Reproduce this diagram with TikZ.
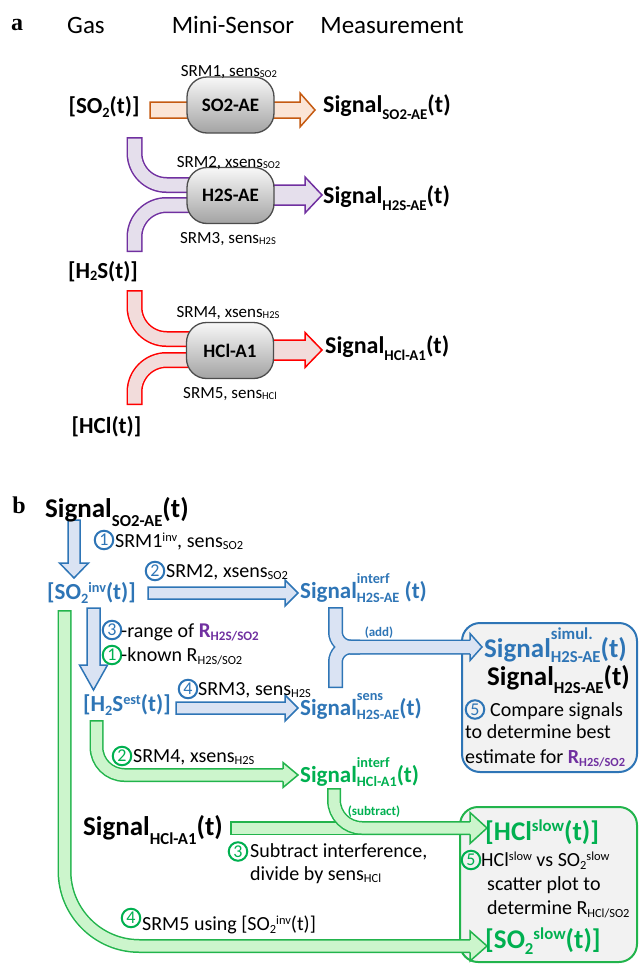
\documentclass[tikz,border=0pt]{standalone}
\usepackage{fontspec}
\setmainfont{Carlito}
\newfontfamily\serifb{Liberation Serif}
\usetikzlibrary{calc}
\definecolor{bT}{RGB}{46,117,182}
\definecolor{bB}{RGB}{46,117,182}
\definecolor{bF}{RGB}{218,227,243}
\definecolor{gT}{RGB}{0,176,80}
\definecolor{gB}{RGB}{34,180,76}
\definecolor{gF}{RGB}{204,245,204}
\definecolor{pT}{RGB}{112,48,160}
\definecolor{pF}{RGB}{229,223,236}
\definecolor{rB}{RGB}{255,0,0}
\definecolor{rF}{RGB}{242,220,219}
\definecolor{oB}{RGB}{197,90,17}
\definecolor{oF}{RGB}{251,229,214}
\definecolor{boxF}{RGB}{242,242,242}
\makeatletter
\newdimen\myscr
\newcommand\scrf{\myscr=\f@size pt\myscr=0.62\myscr\fontsize{\myscr}{\myscr}\selectfont}
\makeatother
\newcommand\sbx[2][0.25em]{\raisebox{-#1}{\scrf #2}}
\newcommand\spx[2][0.3em]{\raisebox{#1}{\scrf #2}}
\newcommand\spsb[2]{\makebox[0pt][l]{\raisebox{0.65em}{\scrf #1}}\raisebox{-0.2em}{\scrf #2}}
\newcommand\fsz[1]{\fontsize{#1}{#1}\selectfont}
% band: #1 border, #2 fill, #3 width, #4 shorten of fill at start, #5 path
\newcommand\bandpath[5]{%
  \draw[line width=#3pt, draw=#1] #5;
  \draw[line width=#3pt-3pt, draw=#2, shorten <=#4pt] #5;}
% open arrow head pointing right: #1 B, #2 F, #3 base x, #4 y, #5 shaft half, #6 head half, #7 tip x
\newcommand\headR[7]{%
  \filldraw[draw=#1, fill=#2, line width=1.5pt, line join=miter]
    (#3,#4-#5+0.75) -- (#3,#4-#6) -- (#7,#4) -- (#3,#4+#6) -- (#3,#4+#5-0.75);}
% straight arrow right: #1 B, #2 F, #3 start, #4 length to head base, #5 shaft half, #6 head half, #7 head length
\newcommand\harrow[7]{%
  \filldraw[draw=#1, fill=#2, line width=1.5pt, line join=miter, shift={(#3)}]
    (0,-#5) -- (#4,-#5) -- (#4,-#6) -- (#4+#7,0) -- (#4,#6) -- (#4,#5) -- (0,#5) -- cycle;}
% straight arrow down
\newcommand\varrow[7]{%
  \filldraw[draw=#1, fill=#2, line width=1.5pt, line join=miter, shift={(#3)}]
    (-#5,0) -- (-#5,#4) -- (-#6,#4) -- (0,#4+#7) -- (#6,#4) -- (#5,#4) -- (#5,0) -- cycle;}
\begin{document}
\begin{tikzpicture}[x=1pt,y=-1pt,
  tit/.style={font=\fsz{25}, anchor=base, inner sep=0pt},
  plab/.style={font=\serifb\bfseries\fsz{24}, anchor=base, inner sep=0pt},
  gasl/.style={font=\fsz{23}\bfseries, anchor=base, inner sep=0pt},
  sigl/.style={font=\fsz{24}\bfseries, anchor=base west, inner sep=0pt},
  srm/.style={font=\fsz{17}, anchor=base, inner sep=0pt},
  sensor/.style={draw=black!70, line width=1.3pt, rounded corners=20pt,
     top color=black!3, bottom color=black!36, minimum width=87pt, minimum height=56pt,
     font=\fsz{19}\bfseries, inner sep=0pt},
  bsig/.style={font=\fsz{27}\bfseries, anchor=base west, inner sep=0pt},
  blab/.style={font=\fsz{23}\bfseries, text=bT, anchor=base west, inner sep=0pt},
  glab/.style={font=\fsz{23}\bfseries, text=gT, anchor=base west, inner sep=0pt},
  srmb/.style={font=\fsz{20}, anchor=base west, inner sep=0pt},
  boxt/.style={font=\fsz{20}, anchor=base west, inner sep=0pt},
  small/.style={font=\fsz{13}\bfseries, anchor=base, inner sep=0pt},
  circ/.style={circle, draw, line width=2pt, inner sep=0pt, minimum size=18.5pt, font=\fsz{18}},
  rbox/.style={line width=2pt, fill=boxF, rounded corners=18pt}
]
\useasboundingbox (0,0) rectangle (639,964);

% ================= panel a =================
\node[plab] (la) at (17,30) {a};
\node[tit] (tg) at (86,33) {Gas};
\node[tit] (tm) at (233,33) {Mini-Sensor};
\node[tit] (tme) at (392,33) {Measurement};

% bands
\harrow{oB}{oF}{150,110}{150}{8}{17}{15}
\bandpath{pT}{pF}{16}{1.5}{(134.5,137) -- (134.5,153) arc[start angle=180,end angle=90,radius=32] -- (200,185)}
\bandpath{pT}{pF}{16}{1.5}{(134.5,252) -- (134.5,237) arc[start angle=180,end angle=270,radius=32] -- (200,205)}
\harrow{pT}{pF}{260,195}{45}{10}{18}{17}
\bandpath{rB}{rF}{16}{1.5}{(134.5,290) -- (134.5,307) arc[start angle=180,end angle=90,radius=32] -- (200,339)}
\bandpath{rB}{rF}{16}{1.5}{(134.5,405) -- (134.5,392) arc[start angle=180,end angle=270,radius=32] -- (200,360)}
\harrow{rB}{rF}{260,350}{45}{10}{17.5}{17}

\node[sensor] (s1) at (230.5,105) {SO2-AE};
\node[sensor] (s2) at (230.5,195.5) {H2S-AE};
\node[sensor] (s3) at (230,350.5) {HCl-A1};

\node[gasl] (g1) at (104,113) {[SO\sbx[0.2em]{2}(t)]};
\node[gasl] (g2) at (103,278) {[H\sbx[0.12em]{2}S(t)]};
\node[gasl] (g3) at (106.5,433) {[HCl(t)]};

\node[sigl] (m1) at (323,112) {Signal\sbx[0.3em]{SO2-AE}(t)};
\node[sigl] (m2) at (323,203) {Signal\sbx[0.3em]{H2S-AE}(t)};
\node[sigl] (m3) at (325,353) {Signal\sbx[0.3em]{HCl-A1}(t)};

\node[srm] (r1) at (229,76) {SRM1, sens\sbx[0.1em]{SO2}};
\node[srm] (r2) at (228.5,167) {SRM2, xsens\sbx[0.1em]{SO2}};
\node[srm] (r3) at (228,243) {SRM3, sens\sbx[0.1em]{H2S}};
\node[srm] (r4) at (228,317) {SRM4, xsens\sbx[0.1em]{H2S}};
\node[srm] (r5) at (230,398) {SRM5, sens\sbx[0.1em]{HCl}};

% ================= panel b =================
\node[plab] (lb) at (19,513) {b};

\draw[rbox, draw=bB] (462,623) rectangle (637,772);
\draw[rbox, draw=gB] (460,807) rectangle (637,962);

% blue arrows
\varrow{bB}{bF}{74,520}{43}{6}{14.5}{15}
\harrow{bB}{bF}{148,593}{137}{6}{13}{13}
\varrow{bB}{bF}{93.5,608}{57}{6.5}{14}{25}
\harrow{bB}{bF}{176,708}{109}{6}{13}{13}

% (add) junction
\draw[bB, line width=15pt] (335.5,607) -- (335.5,632) arc[start angle=180,end angle=90,radius=15] -- (470,647);
\draw[bB, line width=15pt] (335.5,688) -- (335.5,662) arc[start angle=180,end angle=270,radius=15] -- (360,647);
\headR{bB}{bF}{470}{647}{7.5}{13.5}{482}
\draw[bF, line width=12pt, shorten <=1.5pt] (335.5,607) -- (335.5,632) arc[start angle=180,end angle=90,radius=15] -- (470,647);
\draw[bF, line width=12pt, shorten <=1.5pt] (335.5,688) -- (335.5,662) arc[start angle=180,end angle=270,radius=15] -- (360,647);

% green bands
\bandpath{gB}{gF}{14}{1.5}{(64.5,610) -- (64.5,871) arc[start angle=180,end angle=90,radius=75] -- (470,946)}
\headR{gB}{gF}{470}{946}{7}{15}{487}
\bandpath{gB}{gF}{14}{1.5}{(96.5,720) -- (96.5,747) arc[start angle=180,end angle=90,radius=28] -- (283,775)}
\headR{gB}{gF}{283}{775}{7}{12.5}{298}
\bandpath{gB}{gF}{14}{1.5}{(230,828) -- (470,828)}
\bandpath{gB}{gF}{14}{1.5}{(334,788) -- (334,800) arc[start angle=180,end angle=90,radius=28] -- (470,828)}
\headR{gB}{gF}{470}{828}{7}{15.5}{487}

% texts panel b
\node[bsig] (sb1) at (45,517) {Signal\sbx[0.35em]{SO2-AE}(t)};
\node[circ, bT] (c1) at (104,540) {1};
\node[srmb] (t1) at (115,547) {SRM1\spx{inv}, sens\sbx[0.1em]{SO2}};
\node[blab] (so2inv) at (47,599) {[SO\sbx[0.2em]{2}\spx{inv}(t)]};
\node[circ, bT] (c2) at (155,571) {2};
\node[srmb] (t2) at (166,577) {SRM2, xsens\sbx[0.1em]{SO2}};
\node[blab] (sigint) at (300,598) {Signal\spsb{interf}{H2S-AE} (t)};
\node[circ, bT] (c3) at (112,630) {3};
\node[srmb] (t3) at (121,637) {-range of \textcolor{pT}{\fsz{21}\bfseries R\sbx[0.15em]{H2S/SO2}}};
\node[circ, gT] (c1g) at (112,655) {1};
\node[srmb] (t1g) at (121,661) {-known R\sbx[0.15em]{H2S/SO2}};
\node[blab] (h2sest) at (83,711) {[H\sbx[0.2em]{2}S\spx{est}(t)]};
\node[circ, bT] (c4) at (188,689) {4};
\node[srmb] (t4) at (198,695) {SRM3, sens\sbx[0.1em]{H2S}};
\node[blab] (sigsens) at (300,715) {Signal\spsb{sens}{H2S-AE}(t)};
\node[small, text=bT] (add) at (379,636) {(add)};

\node[bsig, text=bT] (sim) at (484,657) {Signal\spsb{simul.}{H2S-AE}(t)};
\node[bsig] (meas) at (487,685) {Signal\sbx[0.3em]{H2S-AE}(t)};
\node[circ, bT] (c5) at (475,709.5) {5};
\node[boxt] (bt1) at (490,716) {Compare signals};
\node[boxt] (bt2) at (465,738) {to determine best};
\node[boxt] (bt3) at (465,763) {estimate for \textcolor{pT}{\bfseries R\sbx[0.15em]{H2S/SO2}}};

\node[circ, gT] (c2g) at (122,756) {2};
\node[srmb] (t2g) at (133,762) {SRM4, xsens\sbx[0.1em]{H2S}};
\node[glab] (sigintg) at (300,782) {Signal\spsb{interf}{HCl-A1}(t)};
\node[bsig] (sighcl) at (83,835) {Signal\sbx[0.35em]{HCl-A1}(t)};
\node[small, text=gT] (subt) at (374,815) {(subtract)};
\node[circ, gT] (c3g) at (238,851.5) {3};
\node[srmb] (t3g) at (250,857) {Subtract interference,};
\node[srmb] (t3g2) at (250,880) {divide by sens\sbx[0.1em]{HCl}};
\node[circ, gT] (c4g) at (131,918) {4};
\node[srmb] (t4g) at (142,930) {SRM5 using [SO\sbx[0.15em]{2}\spx{inv}(t)]};

\node[bsig, text=gT] (hclslow) at (485,840) {[HCl\spx{slow}(t)]};
\node[circ, gT] (c5g) at (471,860) {5};
\node[boxt] (gt1) at (481,866) {HCl\spx{slow} vs SO\sbx[0.15em]{2}\spx{slow}};
\node[boxt] (gt2) at (487,890) {scatter plot to};
\node[boxt] (gt3) at (487,914) {determine R\sbx[0.15em]{HCl/SO2}};
\node[bsig, text=gT] (so2slow) at (485,948) {[SO\sbx[0.25em]{2}\spx{slow}(t)]};
\end{tikzpicture}
\end{document}
